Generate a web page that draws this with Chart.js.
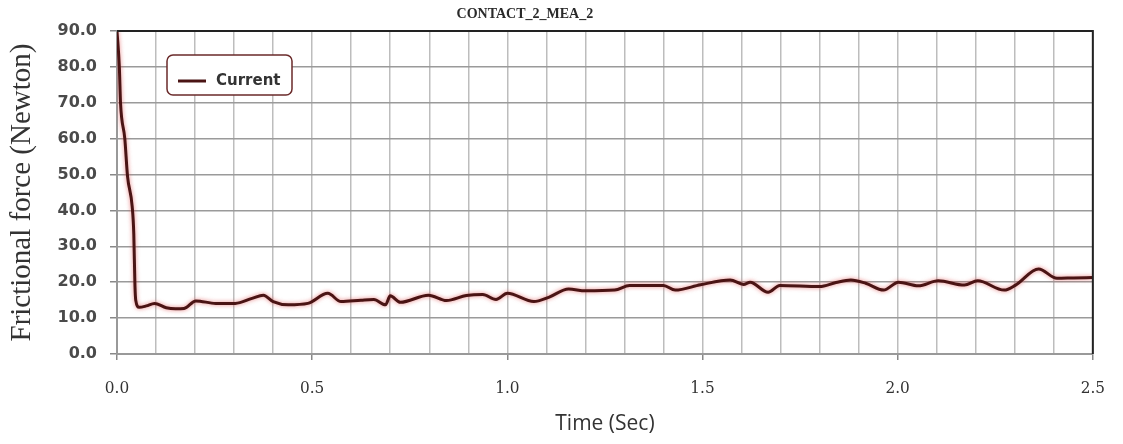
<!DOCTYPE html>
<html>
<head>
<meta charset="utf-8">
<script src="https://cdn.jsdelivr.net/npm/chart.js@4.4.0/dist/chart.umd.min.js"></script>
<style>
  html, body { margin: 0; padding: 0; background: #fff; }
  canvas { display: block; }
</style>
</head>
<body>
<canvas id="chart" width="1123" height="444"></canvas>
<script>
const TITLE = 'CONTACT_2_MEA_2';
const SERIES_NAME = 'Current';
const X_TITLE = 'Time (Sec)';
const Y_TITLE = 'Frictional force (Newton)';

// time (s) / friction force (N)
const times = [
  0, 0.006, 0.009, 0.020, 0.027, 0.039, 0.043, 0.046, 0.048, 0.057,
  0.075, 0.096, 0.126, 0.150, 0.172, 0.202, 0.253, 0.303, 0.346, 0.375,
  0.400, 0.439, 0.489, 0.540, 0.574, 0.625, 0.658, 0.688, 0.700, 0.726,
  0.798, 0.844, 0.895, 0.937, 0.971, 1.000, 1.068, 1.106, 1.157, 1.200,
  1.275, 1.313, 1.400, 1.430, 1.495, 1.571, 1.605, 1.622, 1.668, 1.698,
  1.800, 1.842, 1.880, 1.918, 1.964, 2.002, 2.053, 2.104, 2.171, 2.205,
  2.273, 2.302, 2.361, 2.408, 2.450, 2.500
];
const forces = [
  90, 80, 70, 60, 49.5, 41, 33.5, 19, 15, 13.0,
  13.4, 14.1, 12.9, 12.6, 12.7, 14.8, 14.1, 14.1, 15.5, 16.4,
  14.6, 13.7, 14.1, 16.9, 14.6, 15.0, 15.2, 13.7, 16.2, 14.4,
  16.4, 14.9, 16.3, 16.6, 15.2, 16.9, 14.6, 15.8, 18.1, 17.6,
  17.8, 19.1, 19.1, 17.8, 19.3, 20.6, 19.4, 20.0, 17.2, 19.1,
  18.8, 19.9, 20.6, 19.7, 17.8, 20.0, 19.0, 20.4, 19.2, 20.4,
  17.8, 19.2, 23.7, 21.1, 21.2, 21.3
];

const X_MIN = 0, X_MAX = 2.5, X_STEP = 0.1, X_LABEL_EVERY = 0.5;
const Y_MIN = 0, Y_MAX = 90, Y_STEP = 10;

const LINE_COLOR = '#4a1414';

// soft red halo round the line
const glowPlugin = {
  id: 'glow',
  beforeDatasetDraw(chart) {
    const c = chart.ctx;
    c.save();
    c.shadowColor = 'rgba(225, 90, 90, 0.75)';
    c.shadowBlur = 4;
  },
  afterDatasetDraw(chart) {
    chart.ctx.restore();
  }
};

// dark top / right frame, title and the boxed legend
const framePlugin = {
  id: 'frame',
  afterDraw(chart) {
    const c = chart.ctx;
    const a = chart.chartArea;
    c.save();
    c.strokeStyle = '#222';
    c.lineWidth = 2;
    c.beginPath();
    c.moveTo(a.left, a.top);
    c.lineTo(a.right, a.top);
    c.lineTo(a.right, a.bottom);
    c.stroke();

    c.fillStyle = '#2a2a2a';
    c.font = 'bold 14px "Liberation Serif"';
    c.textAlign = 'center';
    c.textBaseline = 'middle';
    c.fillText(TITLE, a.left + (a.right - a.left) * 0.418, 14);

    const ds = chart.data.datasets[0];
    const bx = a.left + 50, by = a.top + 24, bw = 125, bh = 40;
    c.fillStyle = '#fff';
    c.strokeStyle = '#6a2a2a';
    c.lineWidth = 1.5;
    c.beginPath();
    c.roundRect(bx, by, bw, bh, 6);
    c.fill();
    c.stroke();
    c.strokeStyle = ds.borderColor;
    c.lineWidth = 3;
    c.beginPath();
    c.moveTo(bx + 11, by + 26);
    c.lineTo(bx + 39, by + 26);
    c.stroke();
    c.fillStyle = '#333';
    c.font = 'bold 15px "DejaVu Sans"';
    c.textAlign = 'left';
    c.fillText(ds.label, bx + 49, by + 26);
    c.restore();
  }
};

const isLabelTick = v => Math.abs(v / X_LABEL_EVERY - Math.round(v / X_LABEL_EVERY)) < 1e-6;

new Chart(document.getElementById('chart'), {
  type: 'line',
  data: {
    datasets: [{
      label: SERIES_NAME,
      data: times.map((t, i) => ({ x: t, y: forces[i] })),
      borderColor: LINE_COLOR,
      borderWidth: 3,
      pointRadius: 0,
      cubicInterpolationMode: 'monotone',
      fill: false
    }]
  },
  options: {
    responsive: false,
    animation: false,
    layout: { padding: { left: 0, right: 20, top: 31, bottom: 0 } },
    plugins: {
      legend: { display: false },
      title: { display: false },
      tooltip: { enabled: false }
    },
    scales: {
      x: {
        type: 'linear',
        min: X_MIN,
        max: X_MAX,
        afterFit: s => { s.height = 90; },
        afterBuildTicks: s => {
          s.ticks = [];
          for (let i = 0; i <= Math.round((X_MAX - X_MIN) / X_STEP); i++) {
            s.ticks.push({ value: +(X_MIN + i * X_STEP).toFixed(1) });
          }
        },
        ticks: {
          autoSkip: false,
          maxRotation: 0,
          padding: 18,
          color: '#333',
          font: { family: '"DejaVu Serif Condensed", "Liberation Serif"', size: 17 },
          callback: v => isLabelTick(v) ? v.toFixed(1) : ''
        },
        grid: {
          color: '#bdbdbd',
          lineWidth: 1.5,
          tickLength: 6,
          tickColor: ctx => isLabelTick(ctx.tick.value) ? '#888' : 'rgba(0,0,0,0)'
        },
        border: { color: '#999', width: 2 },
        title: {
          display: true,
          text: X_TITLE,
          color: '#333',
          font: { family: '"Open Sans"', size: 21 },
          padding: { top: 0, bottom: 7 }
        }
      },
      y: {
        min: Y_MIN,
        max: Y_MAX,
        afterFit: s => { s.width = 117; },
        ticks: {
          stepSize: Y_STEP,
          padding: 13,
          color: '#4a4a4a',
          font: { family: '"DejaVu Sans"', size: 16, weight: 'bold' },
          callback: v => v.toFixed(1)
        },
        grid: {
          color: '#9a9a9a',
          lineWidth: 1.5,
          tickLength: 7,
          tickColor: '#888'
        },
        border: { color: '#999', width: 2 },
        title: {
          display: true,
          text: Y_TITLE,
          color: '#333',
          font: { family: '"Liberation Serif"', size: 29 },
          padding: { top: 5, bottom: 0 }
        }
      }
    }
  },
  plugins: [glowPlugin, framePlugin]
});
</script>
</body>
</html>
